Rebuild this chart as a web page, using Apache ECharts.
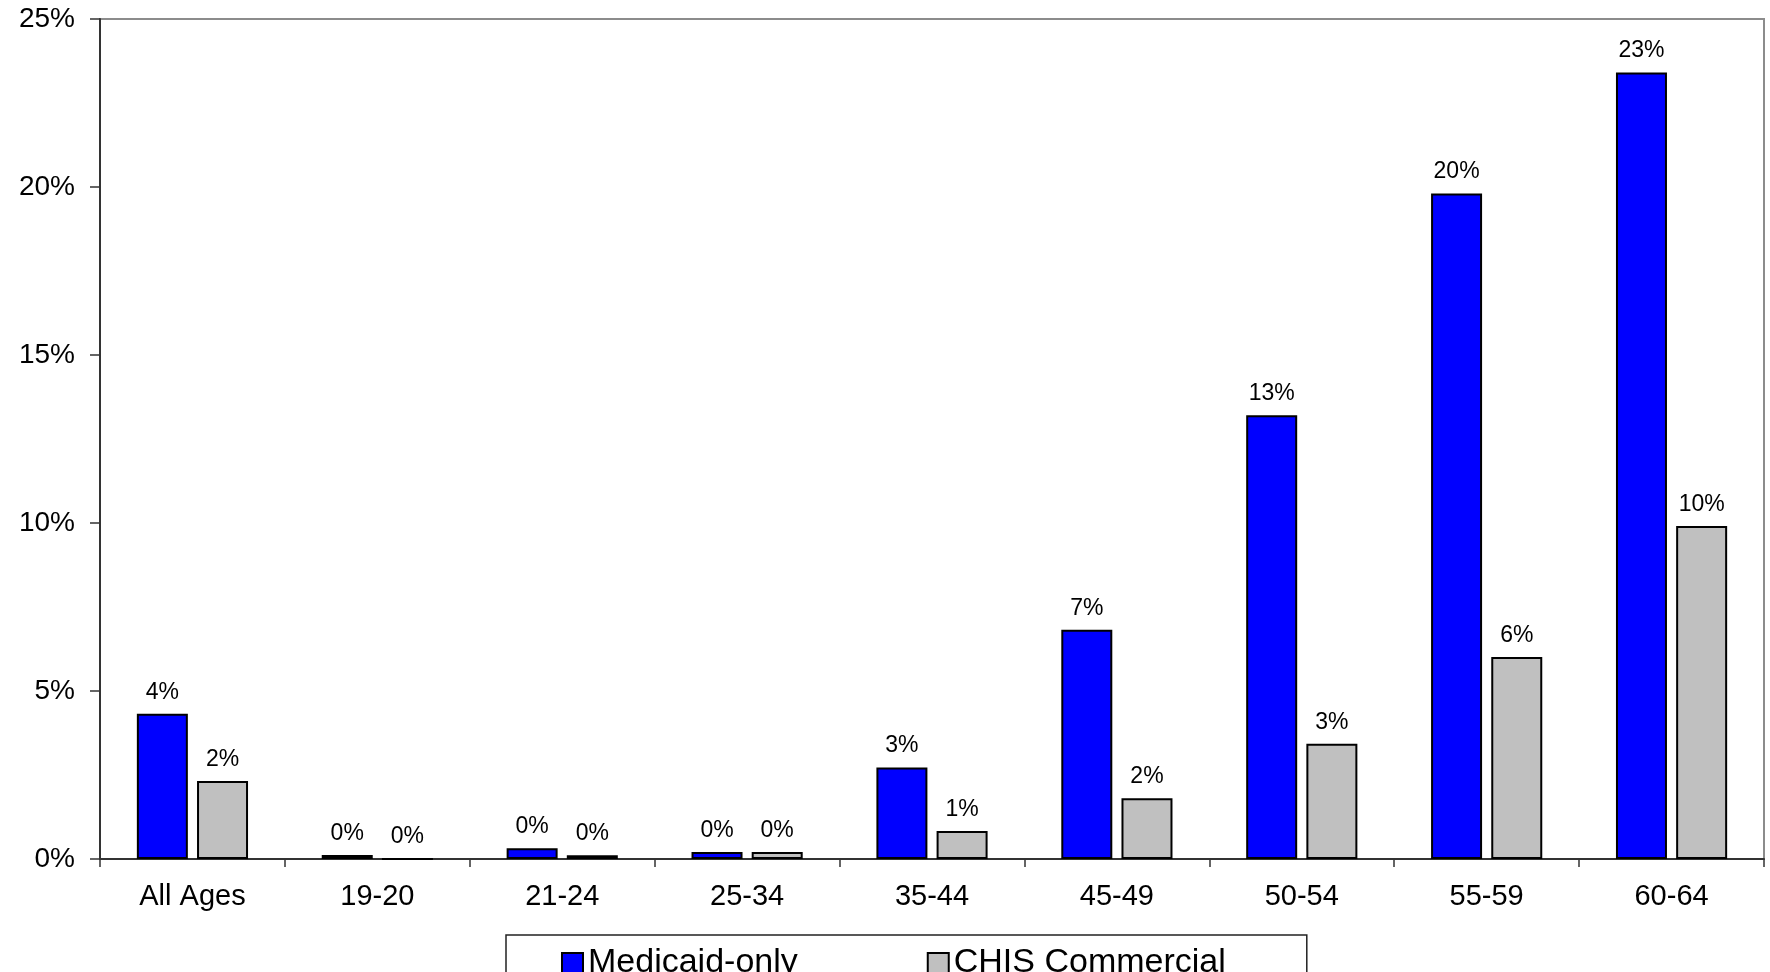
<!DOCTYPE html>
<html>
<head>
<meta charset="utf-8">
<script src="https://cdn.jsdelivr.net/npm/echarts@6/dist/echarts.min.js"></script>
<style>
  html, body { margin: 0; padding: 0; background: #ffffff; }
  #chart { width: 1770px; height: 972px; }
</style>
</head>
<body>
<div id="chart"></div>
<script>
// Age groups along the x axis
const ageGroups = ['All Ages', '19-20', '21-24', '25-34', '35-44', '45-49', '50-54', '55-59', '60-64'];

// Percent of members in each age group, by population
const medicaidOnly = [4.32, 0.12, 0.32, 0.21, 2.72, 6.82, 13.21, 19.81, 23.41];
const chisCommercial = [2.32, 0.0, 0.11, 0.21, 0.83, 1.81, 3.43, 6.01, 9.91];

// Series names shown in the legend
const seriesNames = ['Medicaid-only', 'CHIS Commercial'];

// Value axis ticks (percent)
const yTicks = { min: 0, max: 25, interval: 5 };

const FONT = "'Liberation Sans', Arial, Helvetica, sans-serif";

const chart = echarts.init(document.getElementById('chart'), null, { renderer: 'canvas' });

const barLabel = {
  show: true,
  position: 'top',
  distance: 10,
  color: '#000',
  fontFamily: FONT,
  fontSize: 23,
  formatter: p => Math.round(p.value) + '%'
};

chart.setOption({
  animation: false,
  backgroundColor: '#ffffff',
  grid: {
    left: 100, right: 6, top: 19, bottom: 113,
    show: true,
    borderColor: '#8c8c8c',
    borderWidth: 2,
    backgroundColor: 'transparent'
  },
  legend: {
    data: seriesNames,
    left: 506,
    top: 935,
    orient: 'horizontal',
    icon: 'rect',
    itemWidth: 21,
    itemHeight: 20,
    itemGap: 129,
    padding: [11, 81, 24, 55],
    borderColor: '#222',
    borderWidth: 1.5,
    backgroundColor: '#fff',
    textStyle: { color: '#000', fontFamily: FONT, fontSize: 34 }
  },
  xAxis: {
    type: 'category',
    data: ageGroups,
    boundaryGap: true,
    axisLine: { show: true, lineStyle: { color: '#333', width: 2 } },
    axisTick: { show: true, alignWithLabel: false, length: 8, lineStyle: { color: '#333', width: 1.5 } },
    axisLabel: { color: '#000', fontFamily: FONT, fontSize: 29, margin: 23 },
    splitLine: { show: false }
  },
  yAxis: {
    type: 'value',
    min: yTicks.min,
    max: yTicks.max,
    interval: yTicks.interval,
    axisLine: { show: true, lineStyle: { color: '#333', width: 2 } },
    axisTick: { show: true, length: 10, lineStyle: { color: '#333', width: 1.5 } },
    axisLabel: { color: '#000', fontFamily: FONT, fontSize: 28, margin: 25, formatter: '{value}%' },
    splitLine: { show: false }
  },
  series: [
    {
      name: seriesNames[0],
      type: 'bar',
      data: medicaidOnly,
      barWidth: 51,
      barGap: '18%',
      itemStyle: { color: '#0000ff', borderColor: '#000', borderWidth: 2 },
      label: barLabel
    },
    {
      name: seriesNames[1],
      type: 'bar',
      data: chisCommercial,
      barWidth: 51,
      barGap: '18%',
      itemStyle: { color: '#c0c0c0', borderColor: '#000', borderWidth: 2 },
      label: barLabel
    }
  ]
});
</script>
</body>
</html>
